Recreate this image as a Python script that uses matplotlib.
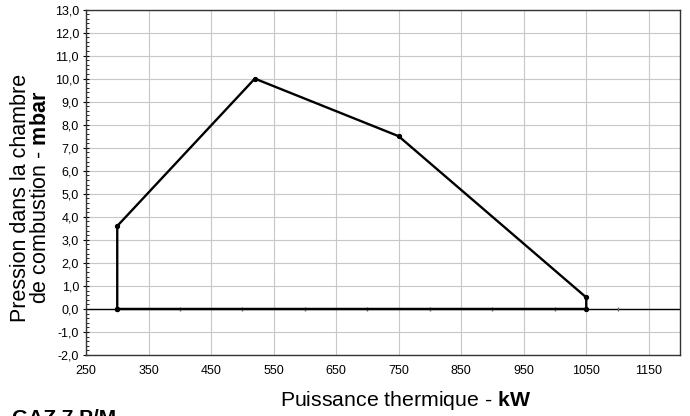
import matplotlib
matplotlib.use("Agg")
import matplotlib.pyplot as plt
import matplotlib.ticker as ticker

plt.rcParams["font.family"] = ["Liberation Sans", "DejaVu Sans"]
plt.rcParams["mathtext.fontset"] = "custom"
plt.rcParams["mathtext.rm"] = "Liberation Sans"
plt.rcParams["mathtext.bf"] = "Liberation Sans:bold"

# Working range (power kW / combustion chamber pressure mbar)
power_kw = [300, 300, 520, 750, 1050, 1050, 300]
pressure_mbar = [0.0, 3.6, 10.0, 7.5, 0.5, 0.0, 0.0]

x_ticks = list(range(250, 1151, 100))
y_ticks = list(range(-2, 14, 1))

fig = plt.figure(figsize=(6.9, 4.16), dpi=100)
ax = fig.add_axes([0.1246, 0.1466, 0.861, 0.8305])

ax.set_xlim(250, 1200)
ax.set_ylim(-2, 13)
ax.set_xticks(x_ticks)
ax.set_yticks(y_ticks)
ax.yaxis.set_major_formatter(ticker.FuncFormatter(lambda v, p: f"{v:.1f}".replace(".", ",")))
ax.yaxis.set_minor_locator(ticker.MultipleLocator(0.2))
ax.tick_params(axis="x", which="both", length=0, labelsize=9, pad=7)
ax.tick_params(axis="y", which="major", length=4, direction="inout", labelsize=9, pad=3)
ax.tick_params(axis="y", which="minor", length=2, direction="in")
ax.grid(True, which="major", color="#c8c8c8", linewidth=0.8)
ax.set_axisbelow(True)
for s in ax.spines.values():
    s.set_color("#333333")
    s.set_linewidth(1.0)

# zero axis with small tick marks
ax.axhline(0, color="black", linewidth=1.0, zorder=2)
ax.plot(range(300, 1200, 100), [0] * 9, linestyle="none", marker="|",
        markersize=3, color="#666666", zorder=2)

ax.plot(power_kw, pressure_mbar, color="black", linewidth=1.7, marker="o",
        markersize=2.8, zorder=3)

fig.text(0.029, 0.525, "Pression dans la chambre", rotation=90, ha="center",
         va="center", fontsize=15.5)
fig.text(0.058, 0.525, r"de combustion - $\mathbf{mbar}$", rotation=90, ha="center",
         va="center", fontsize=15.5)
fig.text(0.588, 0.038, r"Puissance thermique - $\mathbf{kW}$", ha="center",
         va="center", fontsize=15.3)
fig.text(0.018, 0.017, "GAZ 7 P/M", ha="left", va="top", fontsize=15,
         fontweight="bold")

plt.savefig("out.png", dpi=100)
plt.close()
